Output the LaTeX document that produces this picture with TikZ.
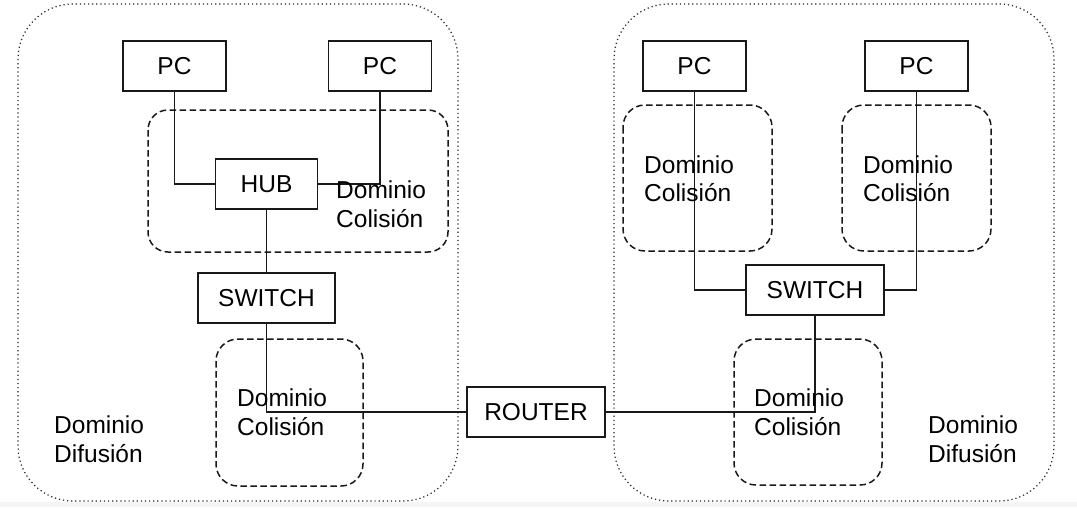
\documentclass[tikz,border=0pt]{standalone}
\usepackage{fontspec}
\setmainfont{Liberation Sans}
\begin{document}
\begin{tikzpicture}[x=1pt,y=-1pt,
  every node/.style={font=\fontsize{24.5}{28.5}\selectfont, text=black},
  devbox/.style={draw=black!90, line width=1.7pt, rectangle, minimum height=50pt, inner sep=0pt},
  pcbox/.style={devbox, minimum width=103pt},
  bcast/.style={draw=black!85, line width=1.2pt, dash pattern=on 1.2pt off 2.9pt, rounded corners=55pt},
  colbox/.style={draw=black!90, line width=1.5pt, dash pattern=on 6.5pt off 3.5pt, rounded corners=22pt},
  lbl/.style={anchor=base west, inner sep=0pt, align=left},
  wire/.style={draw=black!90, line width=1.6pt}]
\useasboundingbox (0,0) rectangle (1077,507);
\fill[white] (0,0) rectangle (1077,502);
\fill[black!4] (0,502) rectangle (1077,507);
% broadcast domains
\draw[bcast] (18,4) rectangle (458,501);
\draw[bcast] (614,4) rectangle (1054,501);
% collision domains
\draw[colbox, rounded corners=20pt] (148,110) rectangle (448,252);
\draw[colbox] (216,339) rectangle (363,486);
\draw[colbox] (623,105) rectangle (772,251);
\draw[colbox] (842,105) rectangle (991,251);
\draw[colbox] (734,339) rectangle (882,485);
% devices
\node[pcbox] (pc1) at (174.5,66) {PC};
\node[pcbox] (pc2) at (380,66) {PC};
\node[devbox, minimum width=102pt] (hub) at (266.5,184) {HUB};
\node[devbox, minimum width=137pt] (swl) at (266.5,298) {SWITCH};
\node[devbox, minimum width=138pt] (router) at (536,412) {ROUTER};
\node[pcbox] (pc3) at (694.5,66) {PC};
\node[pcbox] (pc4) at (916.5,66) {PC};
\node[devbox, minimum width=138pt] (swr) at (815,290) {SWITCH};
% wires
\draw[wire] (pc1.south) |- (hub.west);
\draw[wire] (pc2.south) |- (hub.east);
\draw[wire] (hub.south) -- (swl.north);
\draw[wire] (swl.south) |- (router.west);
\draw[wire] (swr.south) |- (router.east);
\draw[wire] (pc3.south) |- (swr.west);
\draw[wire] (pc4.south) |- (swr.east);
% labels (base anchor = baseline of last line)
\node[lbl] (c1) at (336,227) {Dominio\\Colisión};
\node[lbl] (c2) at (237,435) {Dominio\\Colisión};
\node[lbl] (c3) at (644,201.5) {Dominio\\Colisión};
\node[lbl] (c4) at (863,201.5) {Dominio\\Colisión};
\node[lbl] (c5) at (754,435) {Dominio\\Colisión};
\node[lbl] (d1) at (54,462) {Dominio\\Difusión};
\node[lbl] (d2) at (928,462) {Dominio\\Difusión};
\end{tikzpicture}
\end{document}
